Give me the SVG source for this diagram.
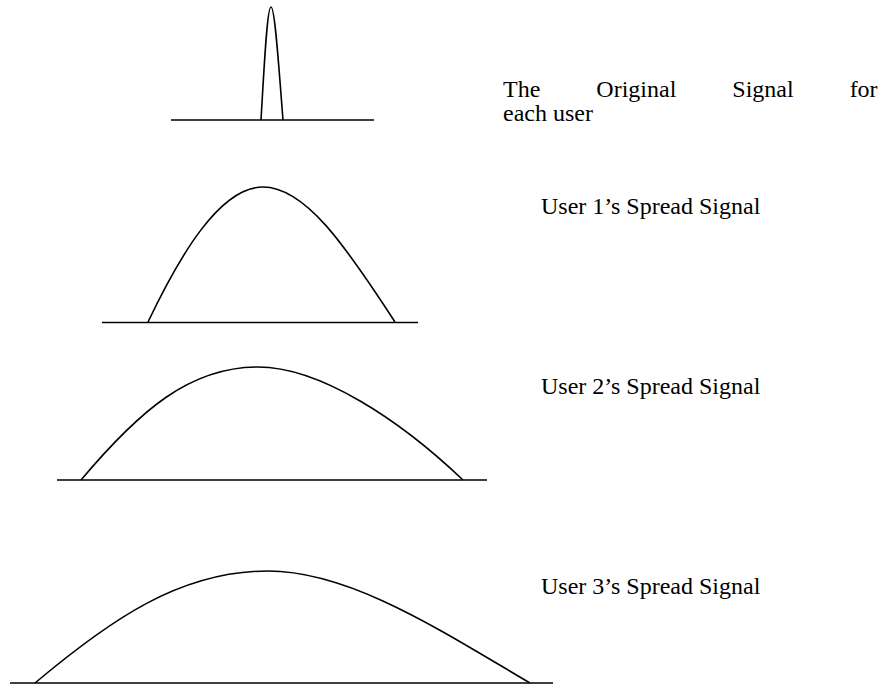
<svg xmlns="http://www.w3.org/2000/svg" width="882" height="687" viewBox="0 0 882 687">
<style>
.ln{fill:none;stroke:#000;stroke-width:1.6}
.t{font-family:"Liberation Serif","Times New Roman","DejaVu Serif",serif;font-size:24px;fill:#000}
</style>
<rect width="882" height="687" fill="#fff"/>
<g id="original">
<line class="ln" x1="171" y1="120" x2="374" y2="120"/>
<path class="ln" d="M261,120 C264,70 267,7 271,7 C275,7 279,70 283,120"/>
</g>
<g id="user1">
<line class="ln" x1="102" y1="322.5" x2="418" y2="322.5"/>
<path class="ln" d="M148,322 C180,255 220,187 263,187 C305,187 345,245 395,322"/>
</g>
<g id="user2">
<line class="ln" x1="57" y1="480" x2="487" y2="480"/>
<path class="ln" d="M81,480 C140,410 190,367 258,367 C320,367 400,420 463,480"/>
</g>
<g id="user3">
<line class="ln" x1="10" y1="683" x2="553" y2="683"/>
<path class="ln" d="M35,683 C110,620 180,571 268,571 C350,571 440,630 530,683"/>
</g>
<g id="labels">
<text class="t" x="503" y="97" word-spacing="50">The Original Signal for</text>
<text class="t" x="503" y="121">each user</text>
<text class="t" x="541" y="214">User 1’s Spread Signal</text>
<text class="t" x="541" y="394">User 2’s Spread Signal</text>
<text class="t" x="541" y="594">User 3’s Spread Signal</text>
</g>
</svg>
